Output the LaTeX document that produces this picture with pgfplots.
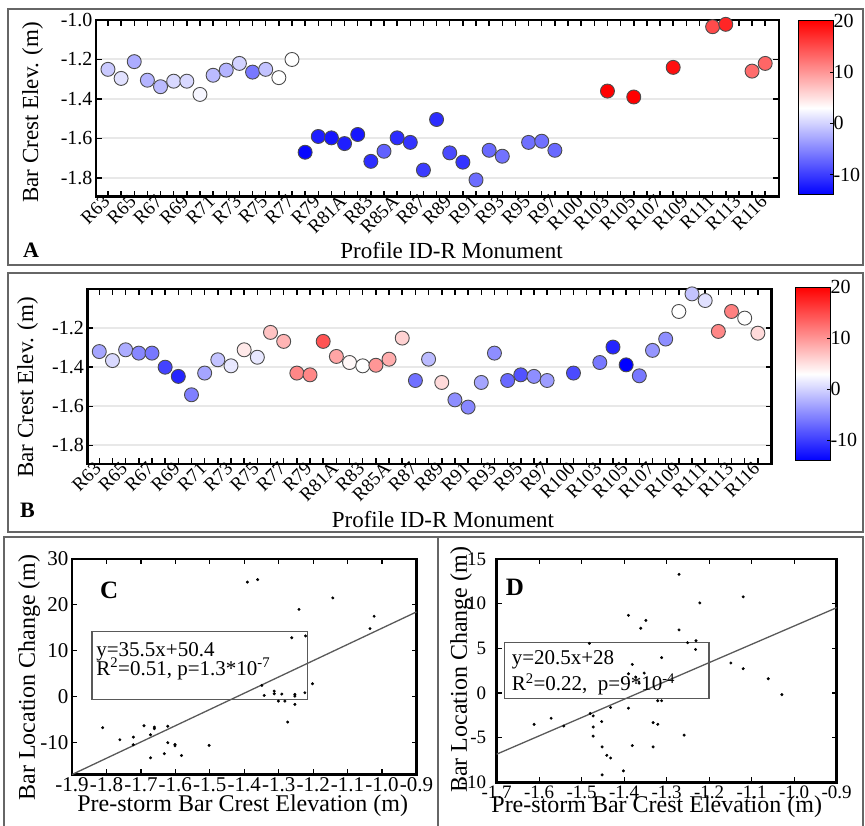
\documentclass[border=0pt]{standalone}
\usepackage{fontspec}
\setmainfont{Liberation Serif}
\usepackage{pgfplots}
\usepackage{pgfplotstable}
\pgfplotsset{compat=1.18}

% A: pre-storm crest elevation, colour = bar location change
\pgfplotstableread{
x y c
0 -1.250 -0.5
1 -1.296 1
2 -1.211 -2.5
3 -1.305 -2
4 -1.338 -1.5
5 -1.310 0.5
6 -1.310 0.5
7 -1.377 2.4
8 -1.280 -1.5
9 -1.254 -2
10 -1.220 0
11 -1.264 -6
12 -1.250 -1
13 -1.292 3
14 -1.200 3
15 -1.670 -13.5
16 -1.590 -12
17 -1.597 -12.5
18 -1.626 -12
19 -1.580 -12.5
20 -1.716 -11
21 -1.665 -7.5
22 -1.597 -11
23 -1.620 -10.5
24 -1.760 -10
25 -1.504 -11
26 -1.673 -9
27 -1.720 -10.5
28 -1.810 -6.8
29 -1.660 -7
30 -1.690 -6.4
32 -1.620 -6.5
33 -1.614 -6.5
34 -1.660 -7
38 -1.360 20
40 -1.390 20
43 -1.240 19
46 -1.034 15
47 -1.022 17.5
49 -1.259 12.8
50 -1.220 13.2
}\tabA

% B
\pgfplotstableread{
x y c
0 -1.320 -3
1 -1.366 0.5
2 -1.311 -2.5
3 -1.328 -5
4 -1.328 -6
5 -1.400 -9.5
6 -1.447 -11.5
7 -1.541 -5.5
8 -1.430 -3
9 -1.362 -1
10 -1.393 1.5
11 -1.311 4.5
12 -1.349 1.5
13 -1.222 7
14 -1.268 8
15 -1.430 11
16 -1.439 11
17 -1.268 14.5
18 -1.345 9
19 -1.376 3.5
20 -1.393 3
21 -1.390 10
22 -1.359 8.5
23 -1.251 6
24 -1.468 -6.5
25 -1.359 -1.5
26 -1.478 5.5
27 -1.567 -4.5
28 -1.604 -5
29 -1.478 -3
30 -1.328 -4.5
31 -1.468 -7
32 -1.439 -8.5
33 -1.447 -4.5
34 -1.468 -3.5
36 -1.430 -9
38 -1.376 -6
39 -1.297 -11.5
40 -1.388 -14
41 -1.444 -6
42 -1.314 -4
43 -1.256 -4.5
44 -1.115 3
45 -1.025 -1
46 -1.059 1
47 -1.217 11
48 -1.115 11.5
49 -1.149 3
50 -1.226 5.5
}\tabB

% C
\pgfplotstableread{
x y
-1.811 -6.83
-1.761 -9.46
-1.722 -8.88
-1.722 -10.55
-1.691 -6.40
-1.672 -8.37
-1.661 -6.70
-1.661 -7.05
-1.672 -13.40
-1.632 -12.50
-1.622 -6.50
-1.622 -10.10
-1.601 -10.50
-1.601 -10.80
-1.582 -12.90
-1.502 -10.70
-1.391 24.96
-1.361 25.50
-1.241 19.00
-1.143 21.50
-1.023 17.50
-1.035 14.80
-1.262 12.80
-1.222 13.20
-1.202 2.77
-1.342 0.22
-1.349 2.40
-1.313 1.16
-1.313 0.58
-1.291 0.51
-1.301 -1.02
-1.282 -1.02
-1.253 0.44
-1.253 0.07
-1.253 -1.75
-1.224 0.80
-1.274 -5.60
}\tabC

% D
\pgfplotstableread{
x y
-1.612 -3.51
-1.572 -2.83
-1.542 -3.70
-1.480 -2.30
-1.473 -2.57
-1.473 -3.81
-1.473 -4.83
-1.482 5.55
-1.453 -3.20
-1.452 -6.04
-1.441 -6.98
-1.432 -7.28
-1.452 -9.17
-1.402 -8.72
-1.432 -1.62
-1.390 8.69
-1.361 7.25
-1.349 8.12
-1.381 3.20
-1.390 2.15
-1.373 1.78
-1.353 2.23
-1.365 1.10
-1.390 -1.70
-1.381 -5.89
-1.332 -6.04
-1.332 -3.32
-1.321 -3.51
-1.321 -0.87
-1.312 -0.87
-1.312 3.96
-1.271 13.28
-1.222 10.08
-1.120 10.76
-1.271 7.06
-1.251 5.63
-1.231 5.85
-1.232 4.87
-1.149 3.36
-1.120 2.72
-1.061 1.59
-1.029 -0.19
-1.259 -4.72
}\tabD

\pgfplotsset{
  colormap={bwr}{rgb255=(0,0,255) rgb255=(255,255,255) rgb255=(255,0,0)},
  profile/.style={
    scale only axis, anchor=south west,
    xmin=-0.91, xmax=51.05, ymin=-1.895, ymax=-1.0,
    axis line style={line width=2.5pt},
    tick align=inside, tick pos=both,
    major tick length=6pt, minor tick length=6pt,
    tick style={black, line width=1.5pt},
    xtick={0,2,...,50}, minor xtick={1,3,...,49},
    xticklabels={R63,R65,R67,R69,R71,R73,R75,R77,R79,R81A,R83,R85A,R87,R89,R91,R93,R95,R97,R100,R103,R105,R107,R109,R111,R113,R116},
    xticklabel style={rotate=45, anchor=east, font=\fontsize{19}{19}\selectfont, inner sep=2pt},
    yticklabel style={font=\fontsize{20}{20}\selectfont, /pgf/number format/.cd, fixed, fixed zerofill, precision=1, assume math mode=true},
    ymajorgrids, grid style={gray!18, line width=2pt},
    label style={font=\fontsize{23}{23}\selectfont},
    colormap name=bwr, point meta min=-14, point meta max=20,
  },
  cbar/.style={
    scale only axis, anchor=south west, width=35pt,
    xmin=0, xmax=1, ymin=-14, ymax=20, xtick=\empty,
    ytick={-10,0,10,20}, ytick pos=right, yticklabel pos=right,
    tick align=inside, major tick length=3pt, tick style={black, line width=0.8pt},
    axis line style={line width=1pt}, axis on top,
    yticklabel style={font=\fontsize{20}{20}\selectfont, /pgf/number format/assume math mode=true, xshift=-3pt},
  },
  crest/.style={scatter, only marks, mark=*, mark size=7pt, point meta=explicit,
    scatter/use mapped color={draw=black!70, fill=mapped color}, mark options={line width=0.9pt}},
  regr/.style={
    scale only axis, anchor=south west,
    axis line style={line width=2.5pt},
    tick align=inside, tick pos=both, major tick length=5pt,
    tick style={black, line width=1.3pt},
    xtick={-1.9,-1.8,-1.7,-1.6,-1.5,-1.4,-1.3,-1.2,-1.1,-1.0,-0.9},
    xticklabel style={/pgf/number format/.cd, fixed, fixed zerofill, precision=1, assume math mode=true},
    yticklabel style={/pgf/number format/assume math mode=true},
    label style={font=\fontsize{24}{24}\selectfont},
    xlabel={Pre-storm Bar Crest Elevation (m)}, ylabel={Bar Location Change (m)},
  },
  dots/.style={only marks, mark=*, mark size=1.3pt, black},
  fit/.style={black!65, line width=1.3pt},
}

\begin{document}
\begin{tikzpicture}[x=1pt, y=1pt]
\useasboundingbox (0,0) rectangle (865,826);
\draw[black!60, line width=1.6pt] (8,817) rectangle (863,561);
\draw[black!60, line width=1.6pt] (8,553) rectangle (863,294);
\draw[black!60, line width=1.6pt] (4,-5) -- (4,289) -- (863,289) -- (863,-5);
\draw[black!60, line width=1.6pt] (437.7,289) -- (437.7,-5);

% A
\begin{axis}[profile, at={(96pt,629.3pt)}, width=683pt, height=176.7pt,
  ytick={-1.8,-1.6,-1.4,-1.2,-1.0},
  xlabel={Profile ID-R Monument}, ylabel={Bar Crest Elev. (m)},
  xlabel style={at={(axis description cs:0.5205,-0.3526)}, anchor=base},
  ylabel style={at={(axis description cs:-0.0849,0.4765)}, anchor=base}]
\addplot[crest] table[x=x, y=y, meta=c] {\tabA};
\end{axis}
\begin{axis}[cbar, at={(798pt,631pt)}, height=174.3pt]
\fill[bottom color=blue, top color=red, middle color=white] (axis cs:0,-14) rectangle (axis cs:1,20);
\end{axis}
\node[anchor=base west, inner sep=0pt, font=\bfseries\fontsize{22}{22}\selectfont] at (23,568) {A};

% B
\begin{axis}[profile, at={(87.3pt,362pt)}, width=684.4pt, height=175pt,
  ytick={-1.8,-1.6,-1.4,-1.2},
  xlabel={Profile ID-R Monument}, ylabel={Bar Crest Elev. (m)},
  xlabel style={at={(axis description cs:0.5197,-0.3657)}, anchor=base},
  ylabel style={at={(axis description cs:-0.0793,0.437)}, anchor=base}]
\addplot[crest] table[x=x, y=y, meta=c] {\tabB};
\end{axis}
\begin{axis}[cbar, at={(795pt,365.3pt)}, height=173.4pt]
\fill[bottom color=blue, top color=red, middle color=white] (axis cs:0,-14) rectangle (axis cs:1,20);
\end{axis}
\node[anchor=base west, inner sep=0pt, font=\bfseries\fontsize{22}{22}\selectfont] at (20,308) {B};

% C
\begin{axis}[regr, at={(72pt,51.7pt)}, width=344.5pt, height=215.3pt,
  xmin=-1.9, xmax=-0.9, ymin=-17, ymax=30, ytick={-10,0,10,20,30},
  ticklabel style={font=\fontsize{21}{21}\selectfont},
  xlabel style={at={(axis description cs:0.4955,-0.175)}, anchor=base},
  ylabel style={at={(axis description cs:-0.1074,0.4496)}, anchor=base}]
\addplot[dots] table[x=x, y=y] {\tabC};
\addplot[fit] coordinates {(-1.9,-17.05) (-0.9,18.45)};
\draw[black!65, line width=1.3pt] (axis cs:-1.842,14.2) rectangle (axis cs:-1.216,-0.7);
\node[anchor=base west, inner sep=0pt, font=\fontsize{21}{21}\selectfont] at (axis cs:-1.830,8.73) {y=35.5x+50.4};
\node[anchor=base west, inner sep=0pt, font=\fontsize{21}{21}\selectfont] at (axis cs:-1.830,4.59) {R\textsuperscript{2}=0.51, p=1.3*10\textsuperscript{-7}};
\node[anchor=base west, inner sep=0pt, font=\bfseries\fontsize{25}{25}\selectfont] at (axis cs:-1.819,21.4) {C};
\end{axis}

% D
\begin{axis}[regr, at={(496.7pt,43.7pt)}, width=340pt, height=223.3pt,
  xmin=-1.7, xmax=-0.9, ymin=-10, ymax=15, ytick={-10,-5,0,5,10,15},
  ticklabel style={font=\fontsize{19}{19}\selectfont},
  yticklabel style={xshift=-7pt},
  xlabel style={at={(axis description cs:0.4706,-0.1375)}, anchor=base},
  ylabel style={at={(axis description cs:-0.0874,0.503)}, anchor=base}]
\addplot[dots] table[x=x, y=y] {\tabD};
\addplot[fit] coordinates {(-1.7,-6.85) (-0.9,9.55)};
\draw[black!65, line width=1.3pt] (axis cs:-1.682,5.66) rectangle (axis cs:-1.2005,-0.6);
\node[anchor=base west, inner sep=0pt, font=\fontsize{21}{21}\selectfont] at (axis cs:-1.665,3.17) {y=20.5x+28};
\node[anchor=base west, inner sep=0pt, font=\fontsize{21}{21}\selectfont] at (axis cs:-1.665,0.23) {R\textsuperscript{2}=0.22,\ \ p=9*10\textsuperscript{-4}};
\node[anchor=base west, inner sep=0pt, font=\bfseries\fontsize{25}{25}\selectfont] at (axis cs:-1.679,10.9) {D};
\end{axis}
\end{tikzpicture}
\end{document}
